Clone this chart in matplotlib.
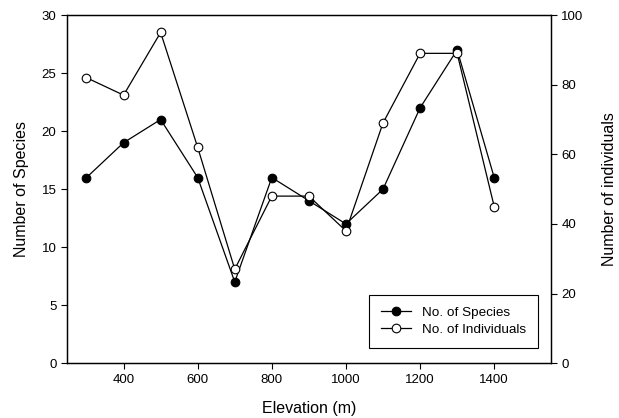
import matplotlib
matplotlib.use('Agg')
import matplotlib.pyplot as plt

plt.rcParams['font.family'] = ['Liberation Sans', 'DejaVu Sans']

elevation = [300, 400, 500, 600, 700, 800, 900, 1000, 1100, 1200, 1300, 1400]
species = [16, 19, 21, 16, 7, 16, 14, 12, 15, 22, 27, 16]
individuals = [82, 77, 95, 62, 27, 48, 48, 38, 69, 89, 89, 45]

fig, ax = plt.subplots(figsize=(6.19, 4.18), dpi=100)
fig.subplots_adjust(left=0.108, right=0.89, top=0.964, bottom=0.131)

l1, = ax.plot(elevation, species, color='black', lw=0.9, marker='o', ms=6.2,
              mfc='black', mec='black', mew=0.8, label='No. of Species')
ax.set_xlim(247, 1553)
ax.set_ylim(0, 30)
ax.set_xticks([400, 600, 800, 1000, 1200, 1400])
ax.set_yticks([0, 5, 10, 15, 20, 25, 30])
ax.set_xlabel('Elevation (m)', fontsize=11.5, labelpad=11)
ax.set_ylabel('Number of Species', fontsize=11.5, labelpad=9)

ax2 = ax.twinx()
l2, = ax2.plot(elevation, individuals, color='black', lw=0.9, marker='o', ms=6.2,
               mfc='white', mec='black', mew=0.8, label='No. of Individuals')
ax2.set_ylim(0, 100)
ax2.set_yticks([0, 20, 40, 60, 80, 100])
ax2.set_ylabel('Number of individuals', fontsize=11.5, labelpad=13)

for a in (ax, ax2):
    a.tick_params(direction='out', length=4, width=0.8, labelsize=9.5)
    for s in a.spines.values():
        s.set_linewidth(0.9)

leg = ax.legend(handles=[l1, l2], loc='lower right', bbox_to_anchor=(0.987, 0.025),
                fontsize=9.7, frameon=True, fancybox=False, edgecolor='black',
                framealpha=1, handlelength=2.2, borderpad=0.9, labelspacing=0.3)
leg.get_frame().set_linewidth(0.8)

plt.savefig('out.png', dpi=100)
